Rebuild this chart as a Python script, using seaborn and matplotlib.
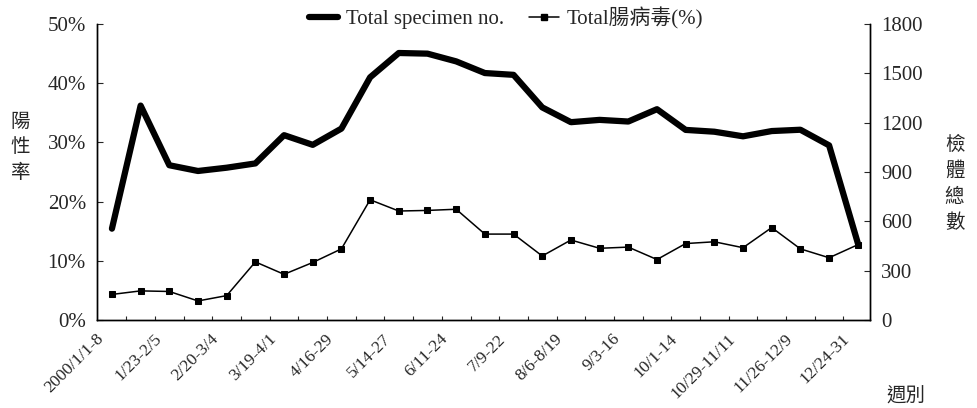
import matplotlib
matplotlib.use("Agg")
import matplotlib.pyplot as plt
import matplotlib.transforms as mtransforms
import seaborn as sns
from matplotlib.font_manager import FontProperties
from matplotlib.lines import Line2D
from matplotlib.ticker import FuncFormatter

# --- data ---
weeks = ["2000/1/1-8", "1/9-22", "1/23-2/5", "2/6-19", "2/20-3/4", "3/5-18",
         "3/19-4/1", "4/2-15", "4/16-29", "4/30-5/13", "5/14-27", "5/28-6/10",
         "6/11-24", "6/25-7/8", "7/9-22", "7/23-8/5", "8/6-8/19", "8/20-9/2",
         "9/3-16", "9/17-30", "10/1-14", "10/15-28", "10/29-11/11", "11/12-25",
         "11/26-12/9", "12/10-23", "12/24-31"]
specimen_no = [555, 1304, 941, 906, 926, 952, 1124, 1065, 1164, 1476, 1624, 1620,
               1573, 1502, 1491, 1293, 1203, 1217, 1207, 1282, 1156, 1145, 1117,
               1149, 1157, 1062, 468]
ev_pct = [4.3, 4.9, 4.8, 3.2, 4.1, 9.8, 7.7, 9.7, 12.0, 20.3, 18.4, 18.5, 18.7,
          14.5, 14.5, 10.8, 13.5, 12.1, 12.3, 10.2, 12.9, 13.2, 12.2, 15.6, 12.0,
          10.5, 12.7]
pct_ticks = [0, 10, 20, 30, 40, 50]
count_ticks = [0, 300, 600, 900, 1200, 1500, 1800]

sns.set_style("ticks")
serif = ["Liberation Serif", "Noto Sans CJK TC"]
cjk = ["Noto Sans CJK TC", "DejaVu Sans"]
plt.rcParams["font.family"] = serif

x = list(range(len(weeks)))

fig = plt.figure(figsize=(9.77, 4.08), dpi=100)
ax = fig.add_axes([0.0993, 0.216, 0.791, 0.725])
ax2 = ax.twinx()

sns.lineplot(x=x, y=ev_pct, ax=ax, color="black", linewidth=1.1, marker="s",
             markersize=5, markeredgecolor="black")
sns.lineplot(x=x, y=specimen_no, ax=ax2, color="black", linewidth=4.5,
             solid_capstyle="round")

ax.set_ylim(0, 50)
ax2.set_ylim(0, 1800)
ax.set_xlim(-0.52, len(weeks) - 1 + 0.42)
ax.set_yticks(pct_ticks)
ax.yaxis.set_major_formatter(FuncFormatter(lambda v, p: f"{v:.0f}%"))
ax2.set_yticks(count_ticks)

ax.set_xticks([i + 0.5 for i in x[:-1]], minor=True)
ax.set_xticks(x[::2])
ax.set_xticklabels(weeks[::2], rotation=45, ha="right", rotation_mode="anchor",
                   fontsize=12.5)
ax.tick_params(axis="x", which="major", length=0, pad=8)
ax.tick_params(axis="x", which="minor", direction="in", length=3, width=0.8)
ax.tick_params(axis="y", direction="in", length=4, labelsize=15, pad=8)
ax2.tick_params(axis="y", direction="in", length=4, labelsize=15, pad=8)

shift = mtransforms.ScaledTranslation(-16 / 100, 0, fig.dpi_scale_trans)
for lab in ax.get_xticklabels():
    lab.set_transform(lab.get_transform() + shift)

for a in (ax, ax2):
    a.spines["top"].set_visible(False)
    for s in ("left", "right", "bottom"):
        a.spines[s].set_linewidth(1.0)
        a.spines[s].set_color("black")

ax.set_ylabel("")
ax2.set_ylabel("")
fig.text(0.021, 0.64, "陽\n性\n率", family=cjk, fontsize=14, ha="center",
         va="center", linespacing=1.3)
fig.text(0.977, 0.55, "檢\n體\n總\n數", family=cjk, fontsize=14, ha="center",
         va="center", linespacing=1.3)
fig.text(0.927, 0.03, "週別", family=cjk, fontsize=14, ha="center", va="center")

handles = [Line2D([], [], color="black", linewidth=4.5),
           Line2D([], [], color="black", linewidth=1.1, marker="s", markersize=5)]
fig.legend(handles, ["Total specimen no.", "Total腸病毒(%)"], loc="center",
           bbox_to_anchor=(0.518, 0.955), ncol=2, frameon=False,
           prop=FontProperties(family=serif, size=15), handlelength=1.4,
           handletextpad=0.4, columnspacing=1.2)

fig.savefig("out.png", dpi=100)
